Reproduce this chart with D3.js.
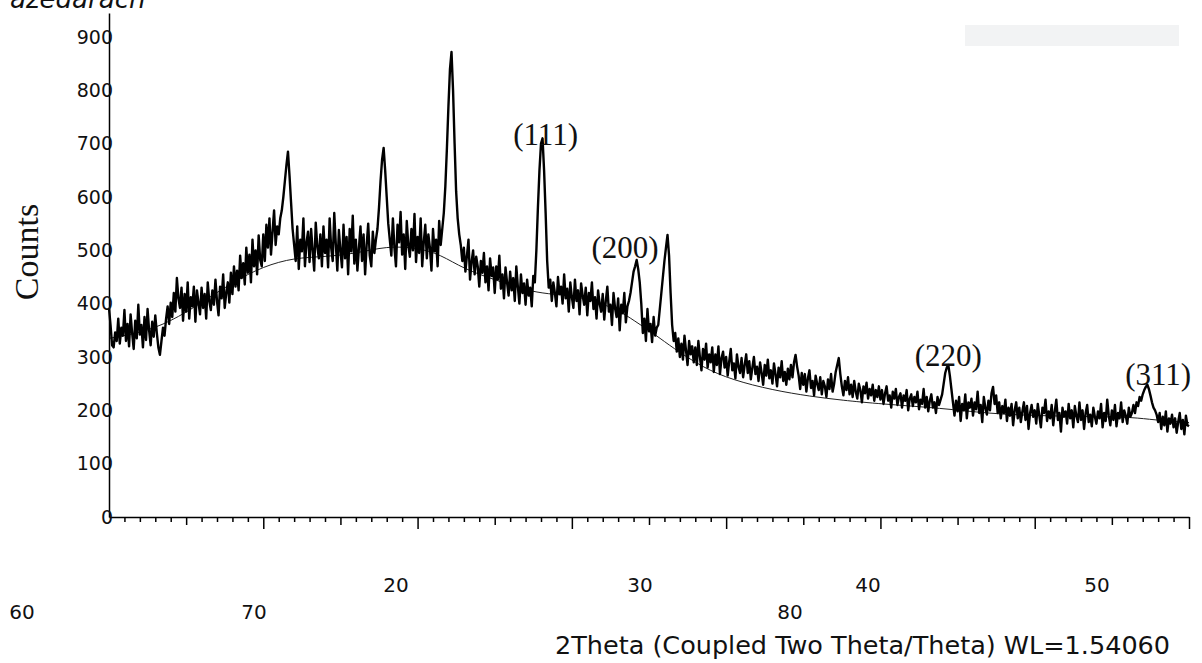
<!DOCTYPE html>
<html>
<head>
<meta charset="utf-8">
<script src="https://cdn.jsdelivr.net/npm/d3@7"></script>
<style>
  body { margin: 0; background: #fff; }
  svg { display: block; }
</style>
</head>
<body>
<div id="chart-area"></div>
<script>
/*
*    xrd pattern
*/
// scan: 2theta from 10 to 80 deg, 0.1 deg step
var thetaStart = 10;
var thetaStep = 0.1;
var counts = [
  392, 360, 322, 318, 346, 330, 372, 325, 355, 340,
  388, 330, 362, 320, 380, 345, 315, 368, 335, 398,
  342, 360, 318, 375, 332, 390, 350, 322, 366, 338,
  378, 345, 318, 304, 330, 355, 340, 372, 395, 362,
  402, 375, 420, 385, 448, 410, 392, 430, 368, 418,
  385, 440, 372, 412, 395, 432, 366, 425, 402, 380,
  430, 392, 418, 372, 440, 405, 388, 425, 398, 445,
  405, 378, 432, 410, 455, 392, 420, 440, 402, 458,
  418, 470, 432, 462, 425, 490, 448, 476, 436, 505,
  458, 492, 440, 520, 470, 500, 455, 528, 482, 470,
  530, 480, 548, 505, 560, 492, 535, 575, 510, 545,
  530, 560, 575, 600, 630, 660, 685, 640, 590, 540,
  510, 480, 545, 465, 520, 498, 560, 470, 515, 535,
  478, 540, 500, 462, 552, 508, 485, 530, 470, 545,
  495, 520, 468, 560, 505, 480, 570, 512, 462, 538,
  500, 468, 548, 485, 525, 455, 540, 498, 565, 475,
  520, 462, 505, 545, 480, 530, 455, 510, 550, 490,
  470, 535, 495, 520, 540, 580, 630, 670, 692, 650,
  600, 550, 520, 490, 560, 505, 470, 548, 515, 572,
  492, 530, 465, 555, 510, 488, 540, 500, 568, 478,
  525, 495, 560, 470, 515, 548, 485, 530, 505, 462,
  540, 498, 520, 470, 555, 510, 540, 570, 620, 690,
  770, 840, 872, 800, 700, 610, 560, 530, 510, 480,
  505, 460, 490, 520, 445, 478, 500, 455, 488, 470,
  432, 480, 458, 495, 440, 470, 425, 485, 452, 468,
  420, 470, 445, 490, 428, 455, 410, 468, 440, 415,
  460, 425, 448, 405, 470, 432, 400, 455, 420, 438,
  398, 445, 415, 430, 395, 452, 440, 500, 580, 650,
  700, 710, 650, 570, 480, 430, 445, 405, 440, 420,
  395, 450, 418, 432, 400, 455, 410, 428, 385, 440,
  412, 392, 445, 405, 425, 380, 438, 415, 398, 430,
  378, 420, 405, 440, 390, 412, 372, 425, 400, 385,
  418, 370, 405, 432, 385, 398, 360, 420, 392, 375,
  410, 350, 398, 382, 420, 365, 395, 405, 420, 440,
  460, 470, 482, 465, 440, 400, 345, 372, 330, 390,
  348, 362, 328, 375, 340, 355, 360, 390, 420, 450,
  480, 505, 529, 490, 420, 360, 330, 345, 310, 335,
  300, 325, 295, 340, 312, 285, 330, 305, 320, 290,
  318, 285, 330, 300, 275, 315, 295, 325, 280, 305,
  290, 318, 272, 305, 285, 320, 268, 298, 310, 280,
  300, 265, 292, 315, 275, 288, 260, 305, 282, 270,
  298, 262, 285, 305, 270, 292, 258, 280, 300, 268,
  282, 255, 290, 270, 248, 285, 265, 295, 260, 275,
  250, 288, 268, 245, 280, 262, 292, 255, 272, 248,
  278, 258, 285, 262, 290, 304, 282, 265, 240, 270,
  248, 268, 235, 260, 275, 242, 255, 228, 265, 250,
  238, 262, 230, 255, 245, 225, 258, 240, 268, 235,
  250, 272, 285, 298, 268, 245, 228, 255, 238, 262,
  230, 248, 225, 255, 235, 222, 250, 238, 215, 245,
  232, 252, 222, 240, 228, 248, 218, 238, 225, 245,
  220, 238, 212, 232, 245, 218, 228, 205, 235, 222,
  240, 210, 225, 232, 205, 228, 218, 238, 200, 222,
  230, 208, 225, 215, 235, 202, 220, 212, 240, 205,
  225, 198, 218, 230, 205, 215, 195, 225, 210, 220,
  230, 250, 270, 280, 285, 265, 240, 215, 190, 218,
  198, 225, 180, 212, 200, 230, 185, 215, 205, 222,
  190, 215, 202, 235, 195, 210, 178, 225, 205, 192,
  218, 200, 232, 244, 212, 228, 195, 215, 185, 208,
  195, 220, 180, 205, 190, 212, 172, 200, 215, 185,
  205, 178, 198, 215, 182, 208, 165, 195, 210, 188,
  200, 175, 212, 190, 168, 205, 195, 220, 180, 198,
  185, 210, 172, 198, 220, 182, 195, 160, 205, 188,
  198, 175, 212, 185, 200, 168, 208, 190, 178, 215,
  182, 200, 165, 195, 210, 178, 192, 170, 205, 188,
  175, 198, 185, 212, 168, 195, 180, 220, 190, 172,
  200, 182, 210, 170, 195, 185, 215, 178, 200, 190,
  175, 205, 188, 195, 210, 195, 215, 208, 225, 218,
  230, 238, 244, 248, 240, 228, 215, 205, 200, 192,
  178, 195, 165, 188, 172, 198, 160, 185, 175, 192,
  168, 185, 158, 178, 195, 165, 182, 155, 190, 172,
  170
];

// fitted background (thin line)
var bgTheta  = [10, 12, 14, 16, 18, 20, 22, 24, 26, 28, 30, 31.5, 33, 35, 37, 38.5, 40, 41.5, 43, 44, 45.5, 46.5, 48.5, 50.4, 53, 55.5, 57.5, 60, 64, 67, 70, 74, 76.4, 77.7, 80];
var bgCounts = [335, 345, 366, 402, 440, 470, 486, 488, 494, 508, 505, 492, 465, 445, 425, 418, 415, 405, 388, 369, 340, 318, 280, 257, 238, 226, 219, 212, 204, 194, 190, 188, 187, 182, 177];

// peak labels
var peakLabels = ["(111)", "(200)", "(220)", "(311)"];
var peakTheta  = [38.3, 43.45, 64.4, 78.0];
var peakCounts = [697, 486, 283, 247];

var yTicks = [0, 100, 200, 300, 400, 500, 600, 700, 800, 900];
var xTickLabels = ["60", "70", "20", "30", "80", "40", "50"];

var width = 1202;
var height = 663;

var svg = d3.select("#chart-area")
    .append("svg")
        .attr("width", width)
        .attr("height", height);

var x = d3.scaleLinear()
    .domain([10, 80])
    .range([109, 1189]);

var y = d3.scaleLinear()
    .domain([0, 945])
    .range([517, 13]);

// cut-off title at the top
svg.append("text")
    .attr("x", 10)
    .attr("y", 8)
    .attr("font-family", "DejaVu Sans")
    .attr("font-style", "italic")
    .attr("font-size", "26px")
    .attr("fill", "#111")
    .text("azedarach");

// grey box top right
svg.append("rect")
    .attr("x", 965)
    .attr("y", 25)
    .attr("width", 214)
    .attr("height", 21)
    .attr("fill", "#f2f3f4");

var data = counts.map((c, i) => {
    return { t: thetaStart + i * thetaStep, c: c };
});
var bg = bgTheta.map((t, i) => {
    return { t: t, c: bgCounts[i] };
});

var line = d3.line()
    .x((d) => { return x(d.t); })
    .y((d) => { return y(d.c); });

svg.append("path")
    .datum(bg)
    .attr("fill", "none")
    .attr("stroke", "#222")
    .attr("stroke-width", 1)
    .attr("d", line.curve(d3.curveBasis));

svg.append("path")
    .datum(data)
    .attr("fill", "none")
    .attr("stroke", "#000")
    .attr("stroke-width", 2.4)
    .attr("stroke-linejoin", "round")
    .attr("d", line.curve(d3.curveLinear));

// x axis: minor, mid and major ticks
var minor = d3.range(11, 80).filter((v) => { return v % 5 != 0; });
var mid = d3.range(15, 80, 10);
var major = d3.range(20, 81, 10);

function tickAxis(vals, size) {
    return d3.axisBottom(x)
        .tickValues(vals)
        .tickSize(size)
        .tickSizeOuter(0)
        .tickFormat("");
}

var xg = svg.append("g")
    .attr("transform", "translate(0, 517)");
xg.append("g").call(tickAxis(minor, 5));
xg.append("g").call(tickAxis(mid, 8)).select(".domain").remove();
xg.append("g").call(tickAxis(major, 12)).select(".domain").remove();
xg.selectAll("path, line").attr("stroke", "#000").attr("stroke-width", 1.5);

// tick labels sit scattered below the axis
var xLabelSpots = [[22, 612], [254, 612], [396, 585], [640, 585], [790, 612], [868, 585], [1097, 585]];
svg.append("g")
    .selectAll("text")
    .data(xTickLabels)
    .enter()
    .append("text")
        .attr("x", (d, i) => { return xLabelSpots[i][0]; })
        .attr("y", (d, i) => { return xLabelSpots[i][1]; })
        .attr("dy", "0.35em")
        .attr("text-anchor", "middle")
        .attr("font-family", "DejaVu Sans")
        .attr("font-size", "20px")
        .attr("fill", "#111")
        .text((d) => { return d; });

// y axis
var yAxisCall = d3.axisLeft(y)
    .tickValues(yTicks)
    .tickSize(0)
    .tickSizeOuter(0)
    .tickPadding(-4);

var yg = svg.append("g")
    .attr("transform", "translate(109, 0)")
    .call(yAxisCall);
yg.select(".domain").attr("stroke", "#000").attr("stroke-width", 1.5);
yg.selectAll("text")
    .attr("font-family", "DejaVu Sans")
    .attr("font-size", "19px")
    .attr("fill", "#111");

// peak labels
svg.append("g")
    .selectAll("text")
    .data(peakLabels)
    .enter()
    .append("text")
        .attr("x", (d, i) => { return x(peakTheta[i]); })
        .attr("y", (d, i) => { return y(peakCounts[i]); })
        .attr("text-anchor", "middle")
        .attr("font-family", "Liberation Serif")
        .attr("font-size", "31px")
        .attr("fill", "#111")
        .text((d) => { return d; });

// axis titles
svg.append("text")
    .attr("transform", "translate(38, 252) rotate(-90)")
    .attr("text-anchor", "middle")
    .attr("font-family", "Liberation Serif")
    .attr("font-size", "34px")
    .attr("fill", "#111")
    .text("Counts");

svg.append("text")
    .attr("x", 555)
    .attr("y", 654)
    .attr("font-family", "DejaVu Sans")
    .attr("font-size", "25.5px")
    .attr("fill", "#111")
    .text("2Theta (Coupled Two Theta/Theta) WL=1.54060");
</script>
</body>
</html>
